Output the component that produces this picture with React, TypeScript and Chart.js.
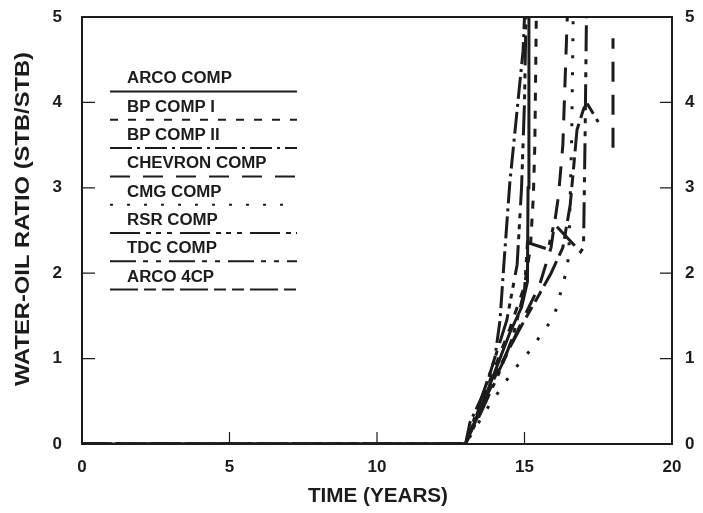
import React, { useEffect, useRef } from "react";
import { Chart, registerables } from "chart.js";
Chart.register(...registerables);

const FONT = "'Liberation Sans', Arial, Helvetica, sans-serif";
const INK = "#1c1c1c";

const seriesNames = ["ARCO COMP", "BP COMP I", "BP COMP II", "CHEVRON COMP", "CMG COMP", "RSR COMP", "TDC COMP", "ARCO 4CP"];

const xTicks = [0, 5, 10, 15, 20];
const yTicks = [0, 1, 2, 3, 4, 5];

// time (years) and water-oil ratio per series
const arcoCompT = [0, 13, 13.5, 14.0, 14.5, 14.9, 15.1, 15.12, 15.15];
const arcoCompW = [0, 0, 0.4, 0.85, 1.3, 1.6, 1.9, 3.0, 5.0];

const bpComp1T = [0, 13, 13.5, 14.0, 14.5, 15.0, 15.2, 15.3, 15.35, 15.4];
const bpComp1W = [0, 0, 0.45, 0.9, 1.35, 1.85, 2.3, 2.9, 3.5, 5.0];

const bpComp2T = [0, 13, 13.15, 13.66, 14.0, 14.17, 14.3, 14.5, 14.95, 15.0];
const bpComp2W = [0, 0, 0.25, 0.63, 1.02, 1.45, 2.1, 3.05, 4.6, 5.0];

const chevronT = [0, 13, 13.7, 14.4, 15.0, 15.5, 15.9, 16.15, 16.3, 16.45, 18.0, 18.0, 18.0];
const chevronW = [0, 0, 0.55, 1.05, 1.5, 1.85, 2.3, 2.9, 3.5, 5.0, null, 3.47, 4.75];

const cmgT = [0, 13, 13.8, 14.6, 15.2, 15.6, 16.0, 16.2, 16.4, 16.5, 16.55, 16.6, 16.65];
const cmgW = [0, 0, 0.45, 0.85, 1.1, 1.3, 1.49, 1.74, 2.0, 2.2, 2.9, 3.6, 5.0];

const rsrT = [0, 13, 13.4, 13.9, 14.4, 14.75, 14.9, 15.0, 15.05];
const rsrW = [0, 0, 0.4, 0.9, 1.45, 2.1, 3.0, 4.0, 5.0];

const tdcT = [0, 13, 13.5, 14.1, 14.6, 15.0, 15.1, 15.8, 16.0, 16.9, 17.0, 17.05, 17.1];
const tdcW = [0, 0, 0.35, 0.8, 1.25, 1.8, 2.36, 2.28, 2.58, 2.25, 2.3, 3.5, 5.0];

const arco4cpT = [0, 13, 13.6, 14.3, 15.0, 15.5, 15.9, 16.3, 16.55, 16.78, 17.0, 17.1, 17.5];
const arco4cpW = [0, 0, 0.5, 1.0, 1.45, 1.75, 2.0, 2.3, 2.8, 3.68, 3.92, 4.0, 3.77];

const seriesT = [arcoCompT, bpComp1T, bpComp2T, chevronT, cmgT, rsrT, tdcT, arco4cpT];
const seriesW = [arcoCompW, bpComp1W, bpComp2W, chevronW, cmgW, rsrW, tdcW, arco4cpW];

const dashes: number[][] = [
  [],
  [8, 10],
  [22, 5, 3, 5],
  [20, 13],
  [3, 14],
  [30, 6, 5, 5, 5, 6, 5, 8],
  [26, 7, 5, 8, 5, 8],
  [28, 6, 12, 6, 12, 6],
];

function fitText(ctx: CanvasRenderingContext2D, text: string, x: number, y: number, size: number, width: number, align: "left" | "center") {
  ctx.save();
  ctx.font = `bold ${size}px ${FONT}`;
  const w = ctx.measureText(text).width;
  const s = width / w;
  ctx.translate(x, y);
  ctx.scale(s, 1);
  ctx.textAlign = align;
  ctx.textBaseline = "middle";
  ctx.fillText(text, 0, 0);
  ctx.restore();
}

const decor = {
  id: "decor",
  afterDatasetsDraw(chart: any) {
    const { ctx, chartArea: a, scales } = chart;
    const xs = scales.x, ys = scales.y;
    ctx.save();
    ctx.strokeStyle = INK;
    ctx.fillStyle = INK;
    ctx.lineWidth = 2;
    ctx.setLineDash([]);
    ctx.strokeRect(a.left, a.top, a.right - a.left, a.bottom - a.top);
    ctx.lineWidth = 1.2;
    ctx.beginPath();
    for (const v of [1, 2, 3, 4]) {
      const y = ys.getPixelForValue(v);
      ctx.moveTo(a.left, y); ctx.lineTo(a.left + 13, y);
      ctx.moveTo(a.right - 12, y); ctx.lineTo(a.right, y);
    }
    for (const v of [5, 10, 15]) {
      const x = xs.getPixelForValue(v);
      ctx.moveTo(x, a.bottom); ctx.lineTo(x, a.bottom - 12);
    }
    ctx.stroke();

    // legend
    for (let i = 0; i < seriesNames.length; i++) {
      const ty = 79 + i * 28.3;
      const ly = 91.5 + i * 28.3;
      ctx.font = `bold 16px ${FONT}`;
      const natural = ctx.measureText(seriesNames[i]).width;
      fitText(ctx, seriesNames[i], 127, ty, 16, natural * (150 / 142.4), "left");
      ctx.lineWidth = 2;
      ctx.setLineDash(dashes[i]);
      ctx.beginPath();
      ctx.moveTo(110, ly);
      ctx.lineTo(297, ly);
      ctx.stroke();
    }
    ctx.setLineDash([]);

    // axis titles
    fitText(ctx, "TIME (YEARS)", 378, 496, 20, 140, "center");
    ctx.save();
    ctx.translate(23, 219);
    ctx.rotate(-Math.PI / 2);
    fitText(ctx, "WATER-OIL RATIO (STB/STB)", 0, 0, 20, 334, "center");
    ctx.restore();
    ctx.restore();
  },
};

export default function App() {
  const ref = useRef<HTMLCanvasElement>(null);
  useEffect(() => {
    const datasets = seriesNames.map((name, i) => ({
      label: name,
      data: seriesT[i].map((t, j) => ({ x: t, y: seriesW[i][j] })),
      borderColor: INK,
      borderWidth: 3,
      borderDash: dashes[i],
      pointRadius: 0,
      tension: 0,
      fill: false,
      spanGaps: false,
    }));
    const tickFont = { family: FONT, size: 17, weight: "bold" as const };
    const noPad = (s: any) => { s.paddingTop = 0; s.paddingBottom = 0; s.paddingLeft = 0; s.paddingRight = 0; };
    const chart = new Chart(ref.current!, {
      type: "line",
      data: { datasets },
      plugins: [decor],
      options: {
        responsive: false,
        animation: false,
        layout: { padding: { top: 17, left: 0, right: 0, bottom: 0 } },
        plugins: { legend: { display: false }, tooltip: { enabled: false }, title: { display: false } },
        scales: {
          x: {
            type: "linear", min: 0, max: 20, position: "bottom",
            afterBuildTicks: (s: any) => { s.ticks = xTicks.map((v) => ({ value: v })); },
            ticks: { font: tickFont, color: INK, padding: 13, maxRotation: 0, autoSkip: false },
            grid: { display: false, drawTicks: false },
            border: { display: false },
            afterFit: (s: any) => { s.height = 69; noPad(s); },
          },
          y: {
            type: "linear", min: 0, max: 5, position: "left",
            afterBuildTicks: (s: any) => { s.ticks = yTicks.map((v) => ({ value: v })); },
            ticks: { font: tickFont, color: INK, padding: 20 },
            grid: { display: false, drawTicks: false },
            border: { display: false },
            afterFit: (s: any) => { s.width = 82; noPad(s); },
          },
          y2: {
            type: "linear", min: 0, max: 5, position: "right",
            afterBuildTicks: (s: any) => { s.ticks = yTicks.map((v) => ({ value: v })); },
            ticks: { font: tickFont, color: INK, padding: 13 },
            grid: { display: false, drawTicks: false },
            border: { display: false },
            afterFit: (s: any) => { s.width = 31; noPad(s); },
          },
        },
      },
    });
    return () => chart.destroy();
  }, []);
  return (
    <div style={{ position: "fixed", left: 0, top: 0, width: 703, height: 513, background: "#fff" }}>
      <canvas ref={ref} width={703} height={513} style={{ width: 703, height: 513, display: "block" }} />
    </div>
  );
}
